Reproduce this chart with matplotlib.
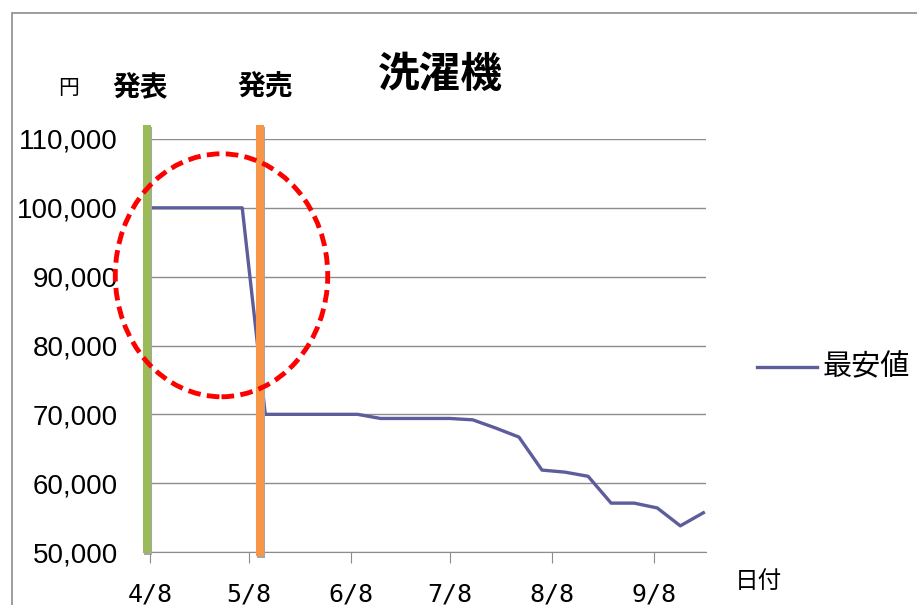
import matplotlib
matplotlib.use("Agg")
import matplotlib.pyplot as plt
import matplotlib.dates as mdates
from matplotlib.patches import Ellipse, Rectangle
from matplotlib.lines import Line2D
import pandas as pd

# ---- data ----
dates = ["2011-04-08", "2011-04-15", "2011-04-22", "2011-04-29", "2011-05-06",
         "2011-05-13", "2011-05-20", "2011-05-27", "2011-06-03", "2011-06-10",
         "2011-06-17", "2011-06-24", "2011-07-01", "2011-07-08", "2011-07-15",
         "2011-07-22", "2011-07-29", "2011-08-05", "2011-08-12", "2011-08-19",
         "2011-08-26", "2011-09-02", "2011-09-09", "2011-09-16", "2011-09-23"]
prices = [100000, 100000, 100000, 100000, 100000,
          70000, 70000, 70000, 70000, 70000,
          69400, 69400, 69400, 69400, 69200,
          68000, 66700, 61900, 61600, 61000,
          57100, 57100, 56400, 53800, 55700]
tick_dates = ["2011-04-08", "2011-05-08", "2011-06-08", "2011-07-08", "2011-08-08", "2011-09-08"]
tick_labels = ["4/8", "5/8", "6/8", "7/8", "8/8", "9/8"]
announce_date = "2011-04-07 01:00"
release_date = "2011-05-11 12:00"
series_name = "最安値"
title = "洗濯機"

JP = ["Noto Sans CJK JP", "DejaVu Sans"]

x = mdates.date2num(pd.to_datetime(dates))
xt = mdates.date2num(pd.to_datetime(tick_dates))
xa = mdates.date2num(pd.to_datetime(announce_date))
xr = mdates.date2num(pd.to_datetime(release_date))

W, H = 917, 605
fig = plt.figure(figsize=(W / 100, H / 100), dpi=100)
fig.patch.set_facecolor("white")

# outer chart frame
fig.add_artist(Rectangle((12 / W, -0.05), 1.1, (H - 13) / H + 0.05,
                         transform=fig.transFigure, fill=False,
                         edgecolor="#8c8c8c", linewidth=1.2))

ax = fig.add_axes([150 / W, 53 / H, (706 - 150) / W, (552 - 139) / H])
ax.set_facecolor("white")

ax.plot(x, prices, color="#5d5d9c", linewidth=2.4, solid_joinstyle="round",
        zorder=3)

ax.set_xlim(x[0], x[-1] + 0.8)
ax.set_ylim(50000, 110000)
ax.set_yticks(range(50000, 110001, 10000))
ax.set_yticklabels([f"{v:,}" for v in range(50000, 110001, 10000)],
                   fontfamily="Liberation Sans", fontsize=20)
ax.set_xticks(xt)
ax.set_xticklabels(tick_labels, fontfamily="DejaVu Sans Mono", fontsize=18)
ax.tick_params(axis="x", length=8, color="#8c8c8c", pad=14)
ax.tick_params(axis="y", length=5, color="#8c8c8c", pad=18)
for lbl in ax.get_yticklabels():
    lbl.set_horizontalalignment("right")

ax.grid(axis="y", color="#8c8c8c", linewidth=1)
ax.set_axisbelow(True)
for s in ["top", "right"]:
    ax.spines[s].set_visible(False)
ax.spines["left"].set_color("#8c8c8c")
ax.spines["bottom"].set_color("#8c8c8c")

# announce / release bars (with slight shadow at the foot)
for xv, col, ybot in [(xa, "#9bbb59", 49850), (xr, "#f79646", 49450)]:
    ax.plot([xv + 0.25, xv + 0.25], [ybot - 350, 111800], color="#a6a6a6",
            linewidth=5.8, solid_capstyle="butt", clip_on=False, zorder=4)
    ax.plot([xv, xv], [ybot, 112000], color=col, linewidth=5.8,
            solid_capstyle="butt", clip_on=False, zorder=5)

# red dashed ellipse
cx = mdates.date2num(pd.to_datetime("2011-04-29 17:00"))
ax.add_patch(Ellipse((cx, 90200), 64.5, 35300, fill=False, edgecolor="#ff0000",
                     linewidth=3.5, linestyle=(0, (2.6, 1.3)), clip_on=False,
                     zorder=6))

# texts
fig.text(440 / W, 1 - 75 / H, title, fontfamily=JP, fontsize=30,
         fontweight="bold", ha="center", va="center")
fig.text(69 / W, 1 - 88 / H, "円", fontfamily=JP, fontsize=15,
         ha="center", va="center")
fig.text(140 / W, 1 - 88 / H, "発表", fontfamily=JP, fontsize=20,
         fontweight="bold", ha="center", va="center")
fig.text(265 / W, 1 - 88 / H, "発売", fontfamily=JP, fontsize=20,
         fontweight="bold", ha="center", va="center")
fig.text(758 / W, 1 - 582 / H, "日付", fontfamily=JP, fontsize=17,
         ha="center", va="center")

# legend
fig.add_artist(Line2D([757 / W, 817 / W], [1 - 367 / H, 1 - 367 / H],
                      transform=fig.transFigure, color="#5d5d9c", linewidth=2.4))
fig.text(823 / W, 1 - 367 / H, series_name, fontfamily=JP, fontsize=21,
         ha="left", va="center")

fig.savefig("out.png", dpi=100)
